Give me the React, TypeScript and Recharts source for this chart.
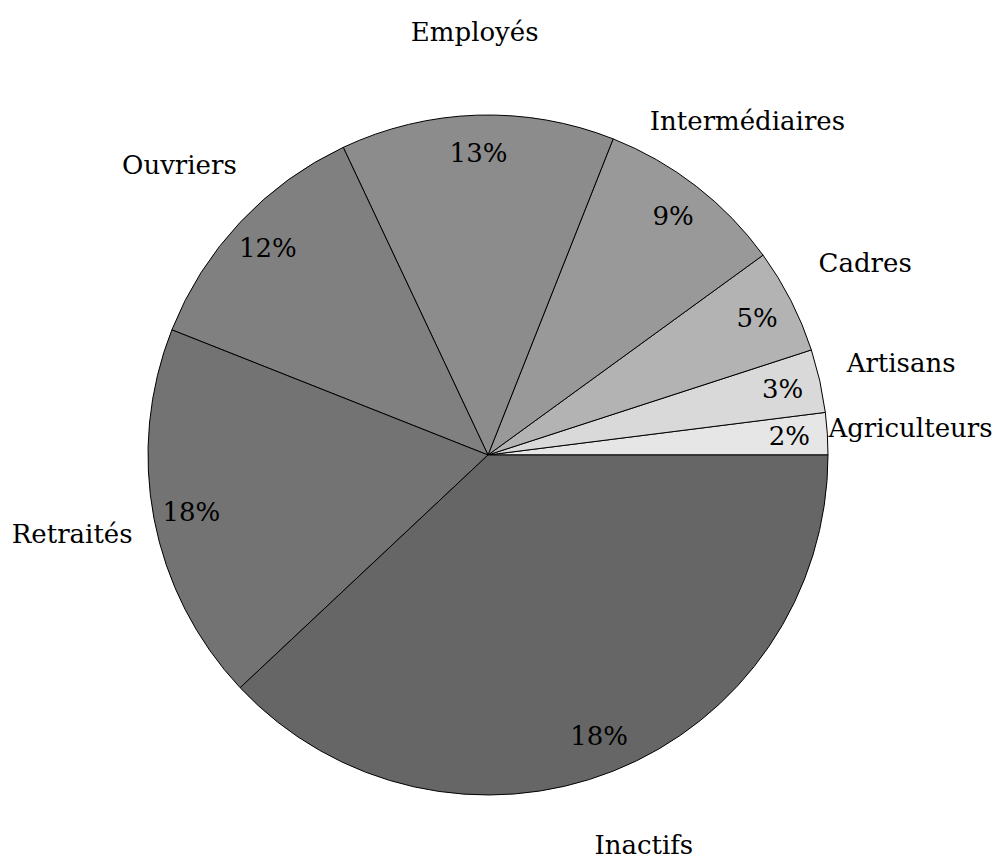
import { Pie, PieChart } from "recharts";

const categories = [
  "Agriculteurs",
  "Artisans",
  "Cadres",
  "Intermédiaires",
  "Employés",
  "Ouvriers",
  "Retraités",
  "Inactifs",
];
const shares = [2, 3, 5, 9, 13, 12, 18, 38];
// printed labels as they appear in the picture (last one reads 18%)
const shareLabels = ["2%", "3%", "5%", "9%", "13%", "12%", "18%", "18%"];
const greys = [
  "#e6e6e6",
  "#d9d9d9",
  "#b3b3b3",
  "#999999",
  "#8c8c8c",
  "#808080",
  "#737373",
  "#666666",
];

const data = categories.map((name, i) => ({
  name,
  value: shares[i],
  fill: greys[i],
}));

const RAD = Math.PI / 180;
const FONT = "DejaVu Serif";

function SliceLabel(props: any) {
  const { cx, cy, midAngle, outerRadius, index } = props;
  const cos = Math.cos(-midAngle * RAD);
  const sin = Math.sin(-midAngle * RAD);
  const rIn = outerRadius * 0.888;
  const rOut = outerRadius * 1.245;
  // keep the bottom label inside the picture
  const nameY = Math.min(cy + rOut * sin, 845);
  return (
    <g key={`lbl-${index}`}>
      <text
        x={cx + rIn * cos}
        y={cy + rIn * sin}
        textAnchor="middle"
        dominantBaseline="central"
        fontFamily={FONT}
        fontSize={26}
        fill="#000"
      >
        {shareLabels[index]}
      </text>
      <text
        x={cx + rOut * cos}
        y={nameY}
        textAnchor="middle"
        dominantBaseline="central"
        fontFamily={FONT}
        fontSize={26}
        fill="#000"
      >
        {categories[index]}
      </text>
    </g>
  );
}

export default function App() {
  return (
    <div style={{ position: "absolute", left: 0, top: 0, background: "#fff" }}>
      <PieChart
        width={998}
        height={861}
        margin={{ top: 0, right: 0, bottom: 0, left: 0 }}
      >
        <Pie
          data={data}
          dataKey="value"
          nameKey="name"
          cx={488}
          cy={455}
          outerRadius={340}
          startAngle={0}
          endAngle={360}
          stroke="#000"
          strokeWidth={1}
          label={SliceLabel}
          labelLine={false}
          isAnimationActive={false}
        />
      </PieChart>
    </div>
  );
}
